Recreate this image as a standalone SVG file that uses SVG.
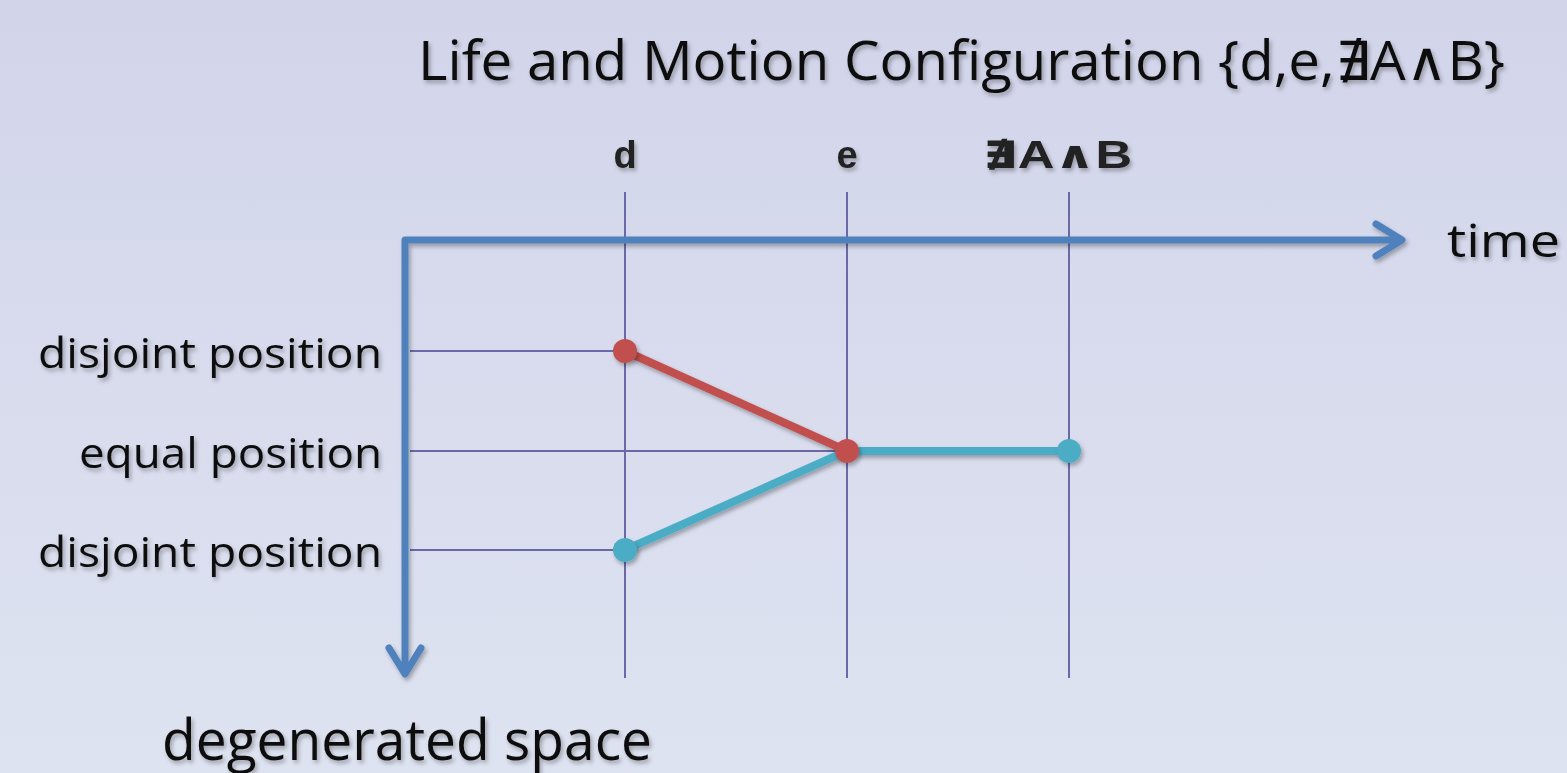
<svg xmlns="http://www.w3.org/2000/svg" width="1567" height="773" viewBox="0 0 1567 773">
<defs>
<linearGradient id="bg" x1="0" y1="0" x2="0" y2="1">
<stop offset="0" stop-color="#d2d5ea"/>
<stop offset="1" stop-color="#dee3f1"/>
</linearGradient>
<filter id="sh" x="-5%" y="-20%" width="110%" height="140%">
<feDropShadow dx="2" dy="3" stdDeviation="2" flood-color="#000" flood-opacity="0.3"/>
</filter>
</defs>
<style>
.t{font-family:"Open Sans","Liberation Sans",sans-serif;fill:#111;}
.b{font-family:"Liberation Sans","DejaVu Sans",sans-serif;font-weight:bold;fill:#222;font-size:38px;}
.grid{stroke:#6a69a6;stroke-width:2;fill:none;}
.axis{stroke:#4f81bd;stroke-width:7;fill:none;stroke-linecap:round;stroke-linejoin:round;}
.red{stroke:#c0504d;stroke-width:8;fill:none;}
.cyan{stroke:#4bacc6;stroke-width:8;fill:none;}
</style>
<rect width="1567" height="773" fill="url(#bg)"/>
<g id="title"><text class="t" x="418" y="80" font-size="54" textLength="1087" lengthAdjust="spacingAndGlyphs" filter="url(#sh)">Life and Motion Configuration {d,e,∄A∧B}</text></g>
<g id="grid">
<line class="grid" x1="625" y1="192" x2="625" y2="678"/>
<line class="grid" x1="847" y1="192" x2="847" y2="678"/>
<line class="grid" x1="1069" y1="192" x2="1069" y2="678"/>
<line class="grid" x1="410" y1="351" x2="625" y2="351"/>
<line class="grid" x1="410" y1="451" x2="847" y2="451"/>
<line class="grid" x1="410" y1="550" x2="625" y2="550"/>
</g>
<g id="axes" filter="url(#sh)">
<polyline class="axis" points="405,672 405,240 1400,240"/>
<polyline class="axis" points="389,648 405,674 421,648"/>
<polyline class="axis" points="1376,224 1402,240 1376,256"/>
</g>
<g id="connectors" filter="url(#sh)">
<line class="red" x1="625" y1="351" x2="847" y2="451"/>
<line class="cyan" x1="625" y1="550" x2="847" y2="451"/>
<line class="cyan" x1="847" y1="451" x2="1069" y2="451"/>
</g>
<g id="nodes" filter="url(#sh)">
<circle id="n-d-top" cx="625" cy="351" r="12" fill="#c0504d"/>
<circle id="n-d-bottom" cx="625" cy="550" r="12" fill="#4bacc6"/>
<circle id="n-end" cx="1069" cy="451" r="12" fill="#4bacc6"/>
<circle id="n-e" cx="847" cy="451" r="12" fill="#c0504d"/>
</g>
<g id="labels" filter="url(#sh)">
<text class="b" x="625" y="168" text-anchor="middle">d</text>
<text class="b" x="847" y="168" text-anchor="middle">e</text>
<text class="b" x="983" y="168" textLength="149" lengthAdjust="spacingAndGlyphs">∄A∧B</text>
<text class="t" x="382" y="368" font-size="42" text-anchor="end" textLength="344" lengthAdjust="spacingAndGlyphs">disjoint position</text>
<text class="t" x="382" y="468" font-size="42" text-anchor="end" textLength="303" lengthAdjust="spacingAndGlyphs">equal position</text>
<text class="t" x="382" y="567" font-size="42" text-anchor="end" textLength="344" lengthAdjust="spacingAndGlyphs">disjoint position</text>
<text class="t" x="1447" y="257" font-size="46" textLength="113" lengthAdjust="spacingAndGlyphs">time</text>
<text class="t" x="162" y="760" font-size="56" textLength="490" lengthAdjust="spacingAndGlyphs">degenerated space</text>
</g>
</svg>
